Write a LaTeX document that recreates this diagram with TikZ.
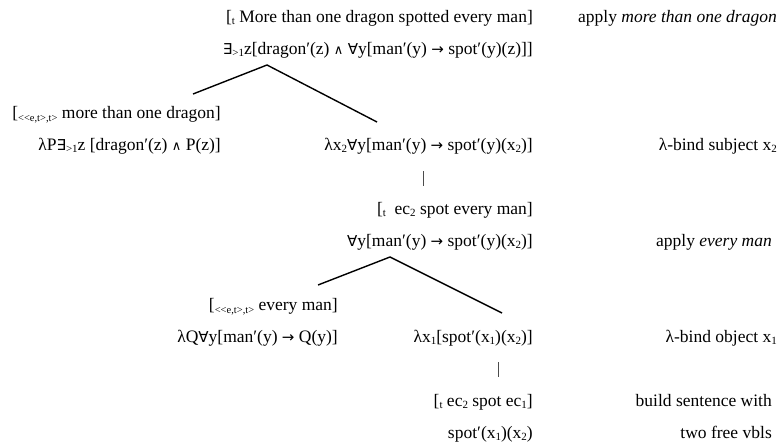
\documentclass[tikz,border=0pt]{standalone}
\usepackage{fontspec}
\setmainfont{Liberation Serif}
\newfontfamily\symf{DejaVu Sans}
\newcommand{\lo}[1]{\raisebox{-0.35ex}{\fontsize{11}{11}\selectfont #1}}
\newcommand{\tlo}[1]{\raisebox{-0.4ex}{\fontsize{10.5}{10.5}\selectfont #1}}
\newcommand{\fa}{{\symf\fontsize{15}{15}\selectfont ∀}}
\newcommand{\ex}{{\symf\fontsize{15}{15}\selectfont ∃}}
\newcommand{\wg}{{\symf\fontsize{13}{13}\selectfont ∧}}
\newcommand{\ar}{{\symf\fontsize{15}{15}\selectfont →}}
\newcommand{\ett}{\tlo{<\kern0pt<e,t\kern0pt>,t\kern0pt>}}
\tikzset{
  txt/.style={inner sep=0pt, anchor=base east, font=\fontsize{17.5}{21}\selectfont},
  branch/.style={line width=1.4pt, black},
  tick/.style={line width=0.7pt, black!70}
}
\begin{document}
\begin{tikzpicture}[x=1pt,y=-1pt]
\useasboundingbox (0,0) rectangle (778,445);
% central column
\node[txt] (r1) at (533,22) {[\lo{t} More than one dragon spotted every man]};
\node[txt] (r2) at (533,54) {\ex\lo{>1}z[dragon′(z) \wg{} \fa y[man′(y) \ar{} spot′(y)(z)]]};
\node[txt] (r3) at (533,150) {λx\lo{2}\fa y[man′(y) \ar{} spot′(y)(x\lo{2})]};
\node[txt] (r4) at (533,214) {[\lo{t}\ \ ec\lo{2} spot every man]};
\node[txt] (r5) at (533,246) {\fa y[man′(y) \ar{} spot′(y)(x\lo{2})]};
\node[txt] (r6) at (533,342) {λx\lo{1}[spot′(x\lo{1})(x\lo{2})]};
\node[txt] (r7) at (533,406) {[\lo{t} ec\lo{2} spot ec\lo{1}]};
\node[txt] (r8) at (533,438) {spot′(x\lo{1})(x\lo{2})};
% left column
\node[txt] (q1) at (221,118) {[\ett{} more than one dragon]};
\node[txt] (q1s) at (221,150) {λP\ex\lo{>1}z [dragon′(z) \wg{} P(z)]};
\node[txt] (q2) at (338,310) {[\ett{} every man]};
\node[txt] (q2s) at (338,342) {λQ\fa y[man′(y) \ar{} Q(y)]};
% annotations
\node[txt] (a1) at (777,22) {apply \textit{more than one dragon}};
\node[txt] (a2) at (777,150) {λ-bind subject x\lo{2}};
\node[txt] (a3) at (772,246) {apply \textit{every man}};
\node[txt] (a4) at (777,342) {λ-bind object x\lo{1}};
\node[txt] (a5) at (772,406) {build sentence with};
\node[txt] (a6) at (772,438) {two free vbls};
% tree branches
\coordinate (t1a) at (267,65);
\coordinate (t1l) at (193,94);
\coordinate (t1r) at (377,122);
\draw[branch] (t1l) -- (t1a) -- (t1r);
\coordinate (t2a) at (390,257);
\coordinate (t2l) at (318,285);
\coordinate (t2r) at (502,313);
\draw[branch] (t2l) -- (t2a) -- (t2r);
% unary ticks
\coordinate (b1t) at (423,171);
\coordinate (b1b) at (423,186);
\draw[tick] (b1t) -- (b1b);
\coordinate (b2t) at (498,362);
\coordinate (b2b) at (498,377);
\draw[tick] (b2t) -- (b2b);
\end{tikzpicture}
\end{document}
